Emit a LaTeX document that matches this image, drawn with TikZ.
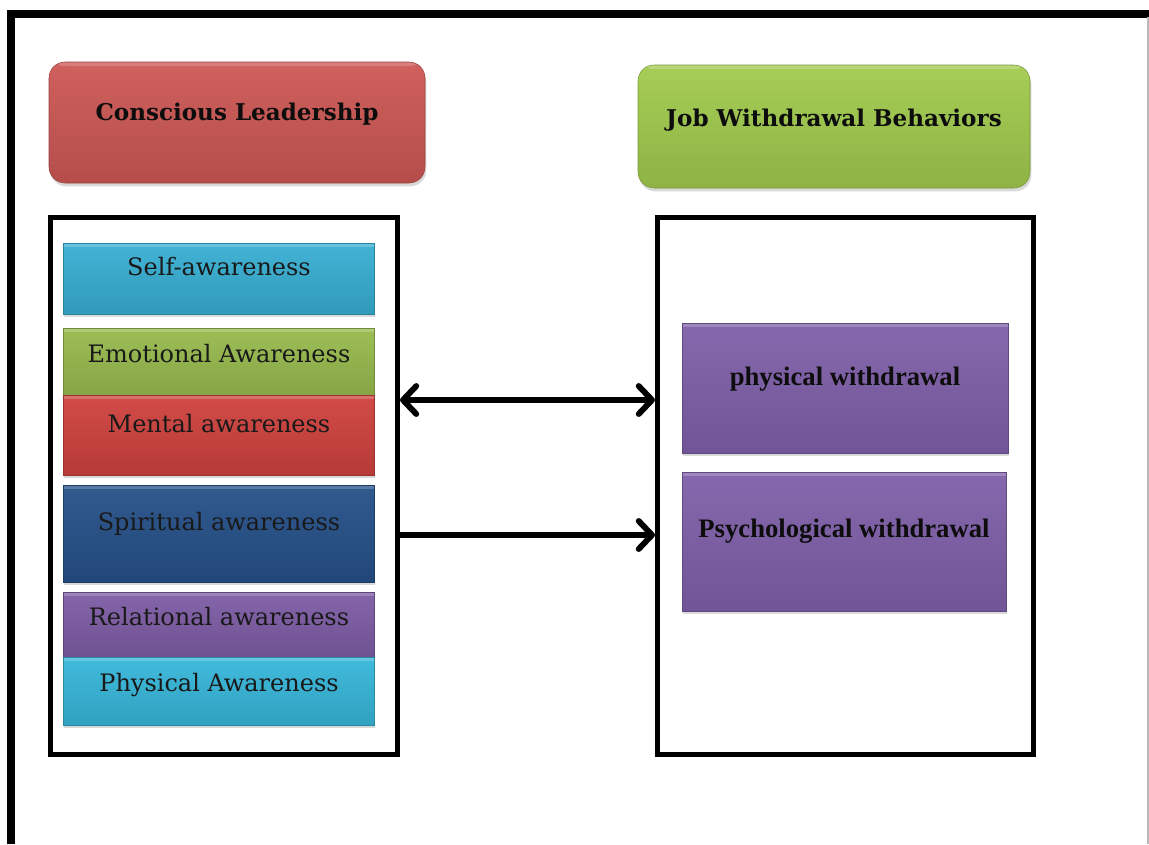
\documentclass[tikz,border=0pt]{standalone}
\usepackage{fontspec}
\setmainfont{DejaVu Serif}
\newfontfamily\rfont{Liberation Serif}
\usetikzlibrary{arrows.meta,shadows,fit,calc}
\definecolor{clred}{HTML}{CD5855}
\definecolor{jwgreen}{HTML}{A2CB4E}
\definecolor{cyanA}{HTML}{38AFD3}
\definecolor{greenA}{HTML}{98BB4E}
\definecolor{redA}{HTML}{CF423E}
\definecolor{blueA}{HTML}{265189}
\definecolor{purpA}{HTML}{7E5DA6}
\definecolor{cyanB}{HTML}{37B7DA}
\definecolor{purpB}{HTML}{8060AA}
\tikzset{
  x=0.75pt, y=-0.75pt,
  bevel/.style={inner sep=0pt, draw=#1!75!black, line width=0.4pt,
    top color=#1!95!white, bottom color=#1!88!black,
    drop shadow={opacity=0.3, shadow xshift=1pt, shadow yshift=-2.5pt},
    path picture={\fill[white,opacity=0.2] (path picture bounding box.north west) rectangle ([yshift=-3pt]path picture bounding box.north east);}},
  head/.style={bevel=#1, rounded corners=12pt},
  frame/.style={draw=black, line width=3.8pt, inner sep=0pt},
  lbl/.style={anchor=base, inner sep=0pt, font=\fontsize{18}{20}\selectfont, text=black!90},
  hlbl/.style={anchor=base, inner sep=0pt, font=\fontsize{17.3}{19}\selectfont\bfseries, text=black!95},
  rlbl/.style={anchor=base, inner sep=0pt, font=\rfont\fontsize{20}{22}\selectfont\bfseries, text=black!95},
  arr/.style={line width=4.4pt, line cap=round, black},
  tip/.tip={Straight Barb[length=10pt, width=21pt, round]}
}
\begin{document}
\begin{tikzpicture}
\useasboundingbox (0,0) rectangle (1149,844);
% outer frame
\draw[line width=5.5pt] (11,844) -- (11,14) -- (1149,14);
\draw[gray!55, line width=0.9pt] (1148,17) -- (1148,844);
% headings
\node[head=clred, fit={(49,62)(425,183)}] (cl) {};
\node[hlbl] (cltxt) at (237,120) {Conscious Leadership};
\node[head=jwgreen, fit={(638,65)(1030,188)}] (jw) {};
\node[hlbl] (jwtxt) at (834,126) {Job Withdrawal Behaviors};
% frames
\node[frame, fit={(50.5,217.5)(397.5,754.5)}] (lf) {};
\node[frame, fit={(657.5,217.5)(1033.5,754.5)}] (rf) {};
% left boxes
\node[bevel=cyanA, fit={(63,243)(374,314)}] (self) {};
\node[lbl] (selftxt) at (219,275) {Self-awareness};
\node[bevel=greenA, fit={(63,328)(374,395)}] (emo) {};
\node[lbl] (emotxt) at (219,362) {Emotional Awareness};
\node[bevel=redA, fit={(63,395)(374,475)}] (men) {};
\node[lbl] (mentxt) at (219,432) {Mental awareness};
\node[bevel=blueA, fit={(63,485)(374,582)}] (spi) {};
\node[lbl] (spitxt) at (219,530) {Spiritual awareness};
\node[bevel=purpA, fit={(63,592)(374,657)}] (rel) {};
\node[lbl] (reltxt) at (219,625) {Relational awareness};
\node[bevel=cyanB, fit={(63,657)(374,725)}] (phy) {};
\node[lbl] (phytxt) at (219,691) {Physical Awareness};
% right boxes
\node[bevel=purpB, fit={(682,323)(1008,453)}] (pw) {};
\node[rlbl] (pwtxt) at (845,385) {physical withdrawal};
\node[bevel=purpB, fit={(682,472)(1006,611)}] (psw) {};
\node[rlbl] (pswtxt) at (844,537) {Psychological withdrawal};
% arrows
\coordinate (ya) at (0,400);
\coordinate (yb) at (0,535);
\draw[arr, {tip}-{tip}] (lf.east |- ya) -- (rf.west |- ya);
\draw[arr, -{tip}] (lf.east |- yb) -- (rf.west |- yb);
\end{tikzpicture}
\end{document}
